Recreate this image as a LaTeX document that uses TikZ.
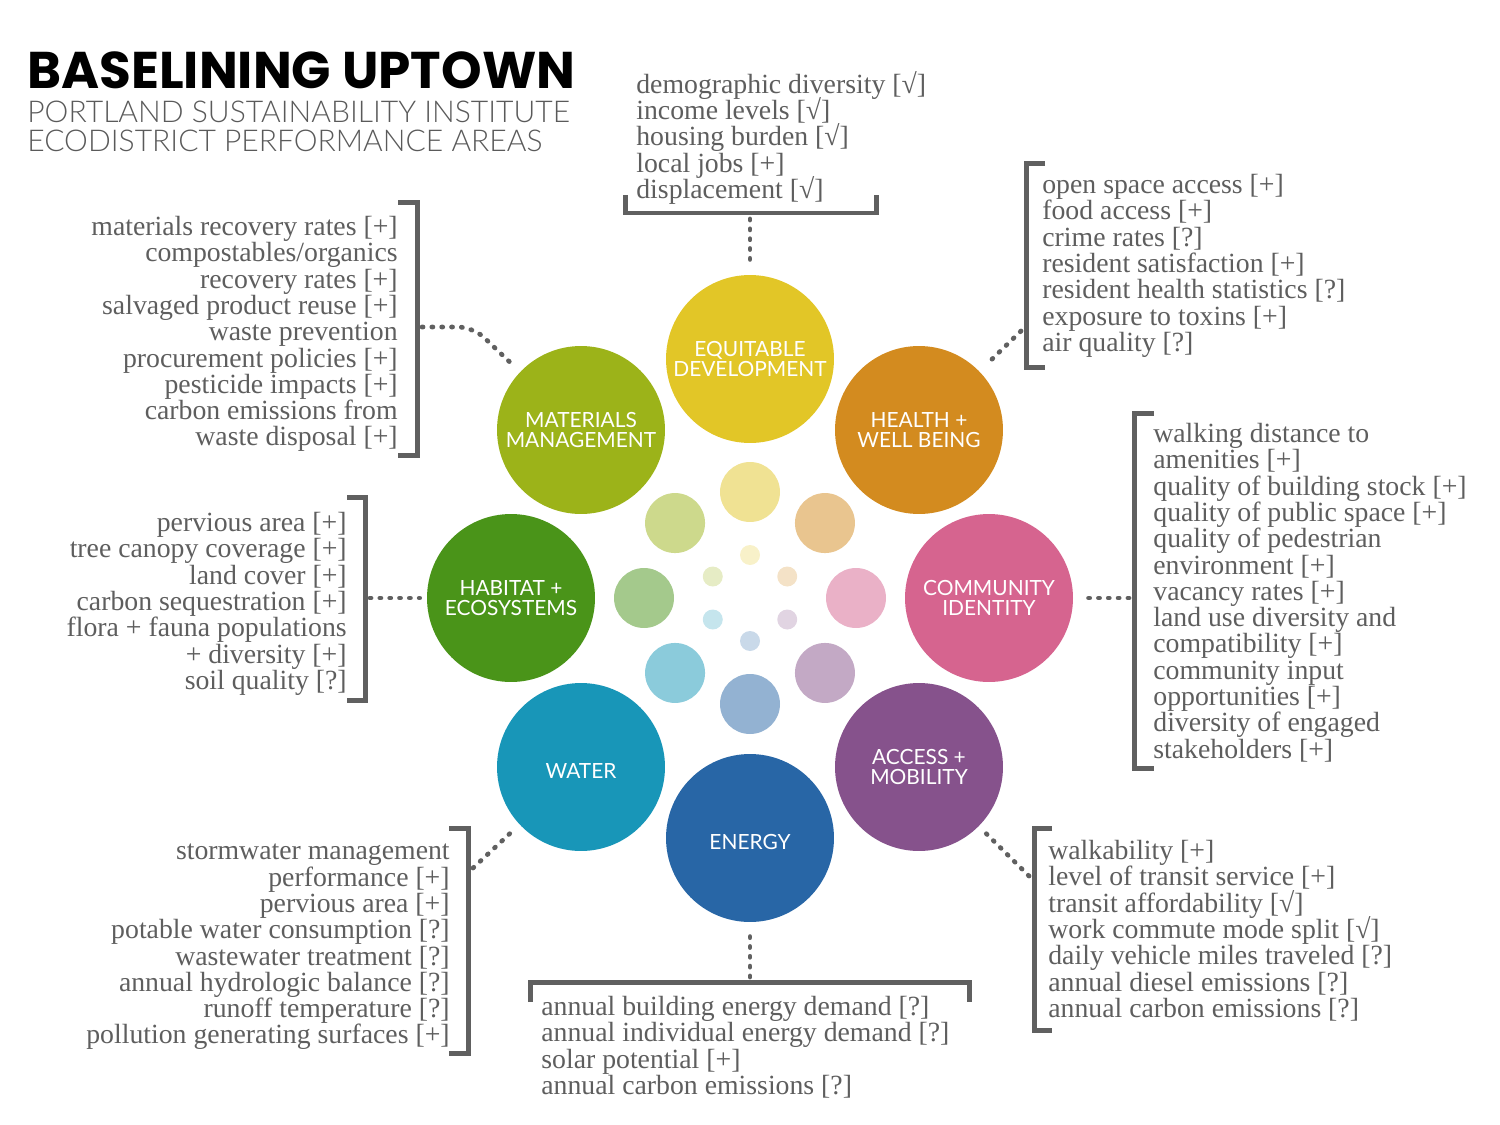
\documentclass[tikz,border=0pt]{standalone}
\usepackage{fontspec}
\usetikzlibrary{calc}
\setmainfont{Liberation Serif}
\newfontfamily\titlefont{Poppins}
\newfontfamily\subfont{Lato Light}
\newfontfamily\labelfont{Lato}
\definecolor{equit}{HTML}{E2C627}
\definecolor{health}{HTML}{D38B1F}
\definecolor{commun}{HTML}{D6648F}
\definecolor{access}{HTML}{86528C}
\definecolor{energy}{HTML}{2866A6}
\definecolor{water}{HTML}{1896B8}
\definecolor{habitat}{HTML}{4A9419}
\definecolor{material}{HTML}{9CB319}
\definecolor{txtgray}{HTML}{5E5E5E}
\definecolor{subgray}{HTML}{5A5A5A}
\definecolor{brgray}{HTML}{606060}
\setlength{\lineskiplimit}{-20pt}
\newcommand{\itemfont}{\fontsize{15.8}{14.96}\selectfont}
\newcommand{\circfont}{\labelfont\fontsize{11.9}{11.4}\selectfont}
\begin{document}
\begin{tikzpicture}[x=0.02cm, y=-0.02cm,
	big/.style={circle, minimum size=3.36cm, inner sep=0pt, text=white, align=center, font=\circfont},
	mid/.style={circle, minimum size=1.2cm, inner sep=0pt},
	tiny/.style={circle, minimum size=0.4cm, inner sep=0pt},
	items/.style={inner sep=0pt, text=txtgray, font=\itemfont},
	subline/.style={anchor=base west, inner sep=0pt, text=subgray, font=\subfont\fontsize{17.1}{17}\selectfont},
	bracket/.style={draw=brgray, line width=0.1cm},
	dots/.style={draw=brgray, line width=0.095cm, line cap=round, dash pattern=on 0.6pt off 5pt}]
	\useasboundingbox (0,0) rectangle (1500,1125);

	% title
	\node[anchor=base west, inner sep=0pt, font=\titlefont\bfseries\fontsize{29.4}{29.4}\selectfont] (title) at (27,89) {BASELINING UPTOWN};
	\node[subline] (sub1) at (27,123) {PORTLAND SUSTAINABILITY INSTITUTE};
	\node[subline] (sub2) at (27,152) {ECODISTRICT PERFORMANCE AREAS};

	% big circles
	\node[big, fill=equit] (eq) at (750,359) {EQUITABLE\\DEVELOPMENT};
	\node[big, fill=health] (hw) at (919,430) {HEALTH +\\WELL BEING};
	\node[big, fill=commun] (ci) at (989,598) {COMMUNITY\\IDENTITY};
	\node[big, fill=access] (am) at (919,767) {ACCESS +\\MOBILITY};
	\node[big, fill=energy] (en) at (750,838) {\raisebox{-0.23cm}[0pt][0pt]{ENERGY}};
	\node[big, fill=water] (wa) at (581,767) {\raisebox{-0.23cm}[0pt][0pt]{WATER}};
	\node[big, fill=habitat] (hb) at (511,598) {HABITAT +\\ECOSYSTEMS};
	\node[big, fill=material] (mm) at (581,430) {MATERIALS\\MANAGEMENT};

	% inner rings
	\coordinate (mid) at (750,598);
	\foreach \col/\ang in {equit/-90, health/-45, commun/0, access/45, energy/90, water/135, habitat/180, material/-135}
		\node[mid, fill=\col!50] (m-\col) at ($(mid)+(\ang:106)$) {};
	\foreach \col/\ang in {equit/-90, health/-30, access/30, energy/90, water/150, material/-150}
		\node[tiny, fill=\col!25] (t-\col) at ($(mid)+(\ang:43)$) {};

	% lists
	\node[items, anchor=north west, align=left] (eq-list) at (636,71) {demographic diversity [√]\\income levels [√]\\housing burden [√]\\local jobs [+]\\displacement [√]};
	\node[items, anchor=north east, align=right] (mm-list) at (398,216) {materials recovery rates [+]\\compostables/organics\\recovery rates [+]\\salvaged product reuse [+]\\waste prevention\\procurement policies [+]\\pesticide impacts [+]\\carbon emissions from\\waste disposal [+]};
	\node[items, anchor=north west, align=left] (hw-list) at (1042,174) {open space access [+]\\food access [+]\\crime rates [?]\\resident satisfaction [+]\\resident health statistics [?]\\exposure to toxins [+]\\air quality [?]};
	\node[items, anchor=north west, align=left] (ci-list) at (1153,423) {walking distance to\\amenities [+]\\quality of building stock [+]\\quality of public space [+]\\quality of pedestrian\\environment [+]\\vacancy rates [+]\\land use diversity and\\compatibility [+]\\community input\\opportunities [+]\\diversity of engaged\\stakeholders [+]};
	\node[items, anchor=north east, align=right] (hb-list) at (347,512) {pervious area [+]\\tree canopy coverage [+]\\land cover [+]\\carbon sequestration [+]\\flora + fauna populations\\+ diversity [+]\\soil quality [?]};
	\node[items, anchor=north east, align=right] (wa-list) at (450,844) {stormwater management\\performance [+]\\pervious area [+]\\potable water consumption [?]\\wastewater treatment [?]\\annual hydrologic balance [?]\\runoff temperature [?]\\pollution generating surfaces [+]};
	\node[items, anchor=north west, align=left] (am-list) at (1048,840) {walkability [+]\\level of transit service [+]\\transit affordability [√]\\work commute mode split [√]\\daily vehicle miles traveled [?]\\annual diesel emissions [?]\\annual carbon emissions [?]};
	\node[items, anchor=north west, align=left] (en-list) at (541,996) {annual building energy demand [?]\\annual individual energy demand [?]\\solar potential [+]\\annual carbon emissions [?]};

	% brackets
	\draw[bracket] (625,195) -- (625,213) -- (876,213) -- (876,195);
	\draw[bracket] (1045,164) -- (1026,164) -- (1026,367) -- (1045,367);
	\draw[bracket] (1154,413) -- (1134,413) -- (1134,768) -- (1154,768);
	\draw[bracket] (1052,828) -- (1034,828) -- (1034,1030) -- (1052,1030);
	\draw[bracket] (530,1002) -- (530,982) -- (969,982) -- (969,1002);
	\draw[bracket] (449,828) -- (468,828) -- (468,1053) -- (449,1053);
	\draw[bracket] (347,497) -- (365,497) -- (365,700) -- (347,700);
	\draw[bracket] (398,203) -- (417,203) -- (417,455) -- (398,455);

	% dotted connectors
	\coordinate (eq-br) at (750,219);
	\coordinate (hw-br) at (1021,331);
	\coordinate (ci-br) at (1129,598);
	\coordinate (am-br) at (1029,876);
	\coordinate (en-br) at (750,977);
	\coordinate (wa-br) at (473,868);
	\coordinate (hb-br) at (370,598);
	\coordinate (mm-br) at (422,327);
	\draw[dots, shorten >=0.14cm] (eq-br) -- (eq);
	\draw[dots, shorten >=0.2cm] (hw-br) -- (hw);
	\draw[dots, shorten >=0.18cm] (ci-br) -- (ci);
	\draw[dots, shorten >=0.18cm] (am-br) -- (am);
	\draw[dots, shorten >=0.16cm] (en-br) -- (en);
	\draw[dots, shorten >=0.2cm] (wa-br) -- (wa);
	\draw[dots, shorten >=0.14cm] (hb-br) -- (hb);
	\draw[dots, rounded corners=0.3cm, shorten >=0.2cm] (mm-br) -- (473,327) -- (mm);
\end{tikzpicture}
\end{document}
